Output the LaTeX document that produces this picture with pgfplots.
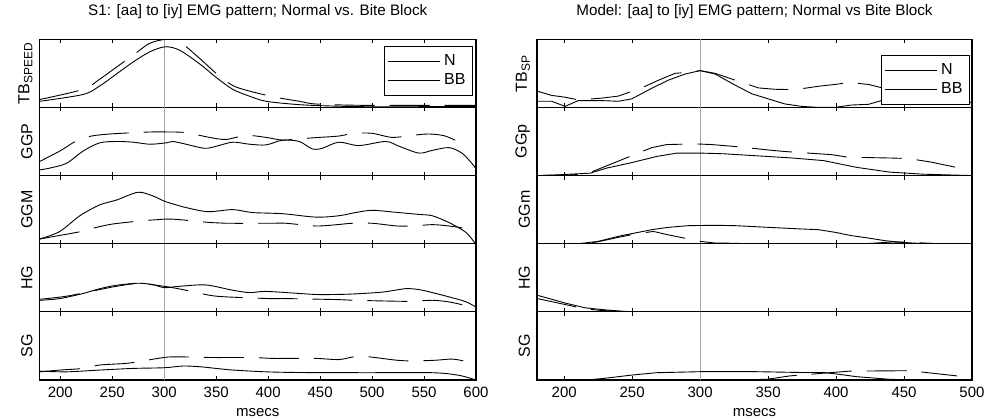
\documentclass[border=0pt]{standalone}
\usepackage{fontspec}
\setmainfont{Liberation Sans}
\usepackage{pgfplots}
\pgfplotsset{compat=1.18}
\definecolor{vline}{RGB}{165,165,165}

\pgfplotsset{
  emg/.style={
    scale only axis, anchor=south west,
    height=34.07pt, ymin=0, ymax=1, ytick=\empty,
    xtick pos=both, tick align=inside, major tick length=2pt,
    axis line style={line width=0.6pt}, tick style={black, line width=0.5pt},
    xticklabel=\empty,
    /pgf/number format/assume math mode=true,
    ticklabel style={font=\fontsize{7.5}{9}\selectfont},
    ylabel style={at={(rel axis cs:0,0.5)}, anchor=south, font=\fontsize{8}{9}\selectfont},
    title style={at={(axis description cs:0.5,1)}, anchor=base, yshift=6pt, font=\fontsize{7.6}{9}\selectfont},
    legend cell align=left,
    legend image code/.code={\draw[#1, solid] (0pt,0pt) -- (26pt,0pt);},
    legend style={at={(rel axis cs:1,1)}, anchor=north east, font=\fontsize{8}{9}\selectfont,
      draw=black, line width=0.5pt, inner xsep=1.5pt, inner ysep=2pt, row sep=-1.5pt},
  },
  lft/.style={emg, width=218.25pt, xmin=180, xmax=600, xtick={200,250,...,600}},
  rgt/.style={emg, width=217.5pt, xmin=180, xmax=500, xtick={200,250,...,500}},
  bottom/.style={xticklabel={\axisdefaultticklabel}, xlabel={msecs},
    xlabel style={at={(axis description cs:0.5,0)}, anchor=base, yshift=-18pt, font=\fontsize{7.5}{9}\selectfont}},
  N/.style={black, line width=0.45pt, mark=none},
  BB/.style={black, line width=0.45pt, mark=none, dash pattern=on 20pt off 7.5pt},
  sm/.style={smooth, tension=0.5},
}

\begin{document}
\begin{tikzpicture}
\useasboundingbox (0,0) rectangle (493.5pt,209.5pt);

% ---------------- left column: S1 ----------------
\begin{axis}[lft, at={(19.75pt,155.8pt)}, ylabel={TB\textsubscript{SPEED}},
  title={S1: [aa] to [iy] EMG pattern; Normal vs. Bite Block},
  legend style={xshift=-1.5pt, yshift=-3.5pt}]
\addplot[vline, line width=0.5pt, forget plot] coordinates {(300,0) (300,1)};
\addplot[N, sm] coordinates {(180.5,0.09)(222,0.19)(238,0.315)(254,0.49)(270,0.665)(286,0.815)(301,0.89)(314.7,0.84)(334,0.64)(350,0.44)(366,0.265)(382,0.165)(398,0.09)(430,0.04)(462,0.02)(494,0.01)(540,0.01)(600,0.015)};
\addlegendentry{N}
\addplot[BB, sm] coordinates {(180,0.115)(222,0.265)(238,0.415)(254,0.59)(270,0.765)(286,0.94)(302,1.0)(314.7,0.965)(334,0.72)(350,0.5)(366,0.32)(382,0.24)(398,0.18)(414,0.13)(430,0.09)(446,0.05)(494,0.03)(600,0.03)};
\addlegendentry{BB}
\end{axis}

\begin{axis}[lft, at={(19.75pt,121.72pt)}, ylabel={GGP}]
\addplot[vline, line width=0.5pt] coordinates {(300,0) (300,1)};
\addplot[N, sm] coordinates {(180.5,0.084)(190,0.11)(206,0.18)(222,0.36)(238,0.48)(254,0.50)(270,0.49)(286,0.46)(302,0.48)(308.3,0.50)(321,0.46)(338.7,0.40)(350,0.43)(366,0.49)(382,0.46)(398,0.45)(414,0.52)(430,0.50)(442.5,0.39)(452,0.40)(468,0.49)(487.3,0.44)(513,0.50)(526,0.43)(545,0.33)(558,0.37)(574,0.41)(586.4,0.33)(596,0.18)(600,0.10)};
\addplot[BB, sm] coordinates {(180.5,0.21)(199.6,0.36)(215.6,0.51)(230,0.58)(247.6,0.61)(271.6,0.63)(287.6,0.64)(302,0.64)(321,0.63)(343.5,0.56)(359.5,0.53)(378.6,0.59)(398,0.56)(414,0.52)(430,0.54)(449,0.56)(468,0.58)(482.5,0.62)(500,0.62)(519.3,0.56)(538.4,0.59)(554.6,0.61)(570.4,0.58)(588,0.46)};
\end{axis}

\begin{axis}[lft, at={(19.75pt,87.65pt)}, ylabel={GGM}]
\addplot[vline, line width=0.5pt] coordinates {(300,0) (300,1)};
\addplot[N, sm] coordinates {(180.5,0.07)(199.6,0.18)(218.8,0.41)(238,0.57)(254,0.64)(274.8,0.755)(289.2,0.70)(300,0.625)(311.5,0.57)(321,0.53)(342,0.47)(366,0.50)(385,0.457)(414,0.44)(446,0.39)(468,0.41)(484,0.457)(500,0.49)(519.3,0.466)(545,0.43)(558,0.41)(574,0.31)(590,0.17)(598.5,0.02)(600,0.0)};
\addplot[BB, sm] coordinates {(180.5,0.07)(220.4,0.18)(234.8,0.24)(250.8,0.29)(274.8,0.33)(290.8,0.35)(308.3,0.36)(345,0.31)(359.5,0.30)(402.6,0.30)(417,0.30)(446,0.26)(466.5,0.28)(480.9,0.30)(500,0.30)(524,0.26)(540,0.26)(558,0.28)(574,0.26)(588,0.23)};
\end{axis}

\begin{axis}[lft, at={(19.75pt,53.57pt)}, ylabel={HG}]
\addplot[vline, line width=0.5pt] coordinates {(300,0) (300,1)};
\addplot[N, sm] coordinates {(180.5,0.17)(199.6,0.195)(222,0.27)(238,0.34)(254,0.39)(274.8,0.42)(289.2,0.40)(300,0.356)(314.7,0.375)(340,0.395)(366,0.317)(382,0.283)(398,0.30)(430,0.27)(449,0.254)(478,0.26)(510,0.29)(532,0.34)(545,0.327)(558,0.283)(574,0.22)(590,0.15)(600,0.07)};
\addplot[BB, sm] coordinates {(180.5,0.185)(206,0.23)(238,0.327)(254,0.375)(274.8,0.415)(300,0.375)(321,0.317)(343.5,0.244)(359.5,0.22)(400.9,0.195)(417,0.195)(466.5,0.18)(482.5,0.17)(524,0.156)(540,0.156)(558,0.17)(574,0.146)(588,0.10)};
\end{axis}

\begin{axis}[lft, bottom, at={(19.75pt,19.5pt)}, ylabel={SG}]
\addplot[vline, line width=0.5pt] coordinates {(300,0) (300,1)};
\addplot[N, sm] coordinates {(180.5,0.13)(206,0.12)(238,0.146)(270,0.17)(300,0.18)(318,0.205)(334,0.195)(350,0.17)(366,0.146)(398,0.12)(430,0.11)(494,0.107)(558,0.107)(583.2,0.07)(600,0.0)};
\addplot[BB, sm] coordinates {(180.5,0.12)(199.6,0.146)(222,0.17)(238,0.22)(263.6,0.244)(279.6,0.28)(294,0.317)(308.3,0.34)(346.6,0.33)(361,0.33)(385,0.33)(404.3,0.317)(418.9,0.317)(446,0.317)(468,0.30)(482.5,0.34)(496.9,0.34)(524,0.29)(540,0.28)(561,0.29)(577,0.307)(588,0.28)};
\end{axis}

% ---------------- right column: Model ----------------
\begin{axis}[rgt, at={(268.5pt,155.8pt)}, ylabel={TB\textsubscript{SP}},
  title={Model: [aa] to [iy] EMG pattern; Normal vs Bite Block},
  legend style={xshift=-1pt, yshift=-8pt}]
\addplot[vline, line width=0.5pt, forget plot] coordinates {(300,0) (300,1)};
\addplot[N] coordinates {(180,0.09)(190.8,0.09)(200.6,0.015)(210.4,0.10)(227.6,0.10)(239.8,0.09)(249.7,0.125)(264,0.276)(276.6,0.40)(289,0.49)(300,0.54)(311,0.49)(325.7,0.327)(338,0.20)(350,0.126)(362.5,0.05)(374.7,0.015)(387,0)(399,0)(411.5,0.035)(423.8,0.045)(436,0.115)(448,0.166)(460.6,0.15)(472.9,0.10)(487,0.075)(500,0.075)};
\addlegendentry{N}
\addplot[BB] coordinates {(180,0.24)(190.8,0.176)(200.6,0.15)(210.4,0.11)(227.6,0.136)(239.8,0.166)(257,0.286)(268,0.387)(281.5,0.50)(293.8,0.518)(300,0.54)(311,0.50)(325.7,0.40)(342.9,0.286)(355,0.266)(369.8,0.26)(387,0.31)(400.5,0.34)(409.1,0.367)(423.8,0.337)(436,0.276)(448,0.20)(460.6,0.15)(477.8,0.085)(500,0.075)};
\addlegendentry{BB}
\end{axis}

\begin{axis}[rgt, at={(268.5pt,121.72pt)}, ylabel={GGp}]
\addplot[vline, line width=0.5pt] coordinates {(300,0) (300,1)};
\addplot[N] coordinates {(180.5,0)(194.5,0.01)(219,0.035)(231.3,0.11)(249.7,0.19)(268,0.28)(282.8,0.33)(300,0.33)(317.1,0.32)(341.6,0.29)(366.2,0.26)(390.7,0.22)(400.5,0.18)(415.2,0.12)(439.7,0.05)(464.3,0.02)(500,0)};
\addplot[BB] coordinates {(180.5,0)(206.7,0.01)(219,0.045)(223.9,0.084)(253.3,0.32)(264.4,0.41)(275.4,0.455)(296.3,0.465)(308.5,0.455)(329.4,0.42)(352.7,0.37)(364.5,0.35)(396.8,0.307)(408.4,0.27)(441,0.257)(453.2,0.25)(469.2,0.20)(487.6,0.124)};
\end{axis}

\begin{axis}[rgt, at={(268.5pt,87.65pt)}, ylabel={GGm}]
\addplot[vline, line width=0.5pt] coordinates {(300,0) (300,1)};
\addplot[N] coordinates {(180,0)(210.4,0)(225.1,0.034)(239.8,0.108)(252.1,0.157)(264.4,0.206)(276.6,0.24)(291.4,0.265)(311,0.27)(325.7,0.265)(350.2,0.24)(374.7,0.216)(387,0.206)(399.3,0.167)(411.5,0.118)(423.8,0.083)(436.1,0.044)(448.3,0.02)(460.6,0.005)(500,0)};
\addplot[BB] coordinates {(180,0)(215.3,0)(225.1,0.03)(239.8,0.093)(252.1,0.142)(265.6,0.18)(276.6,0.13)(300,0.034)(311,0.01)(350.2,0)(423.8,0.003)(441,0.025)(455.7,0.02)(472.9,0)(500,0)};
\end{axis}

\begin{axis}[rgt, at={(268.5pt,53.57pt)}, ylabel={HG}]
\addplot[vline, line width=0.5pt] coordinates {(300,0) (300,1)};
\addplot[N] coordinates {(180,0.245)(200.6,0.13)(215.3,0.06)(227.6,0.034)(242.3,0.01)(252.1,0)(500,0)};
\addplot[BB] coordinates {(180,0.196)(200.6,0.108)(215.3,0.044)(227.6,0.02)(249.7,0)(500,0)};
\end{axis}

\begin{axis}[rgt, bottom, at={(268.5pt,19.5pt)}, ylabel={SG}]
\addplot[vline, line width=0.5pt] coordinates {(300,0) (300,1)};
\addplot[N] coordinates {(180,0)(215.3,0)(227.6,0.02)(250,0.073)(268,0.107)(300,0.122)(341.6,0.122)(374.7,0.11)(390.7,0.11)(400.5,0.088)(415,0.049)(439.7,0.01)(460,0)(500,0)};
\addplot[BB] coordinates {(180,0)(320,0)(349,0.01)(366,0.06)(397,0.11)(410,0.13)(443,0.135)(454,0.137)(489,0.06)};
\end{axis}
\end{tikzpicture}
\end{document}
